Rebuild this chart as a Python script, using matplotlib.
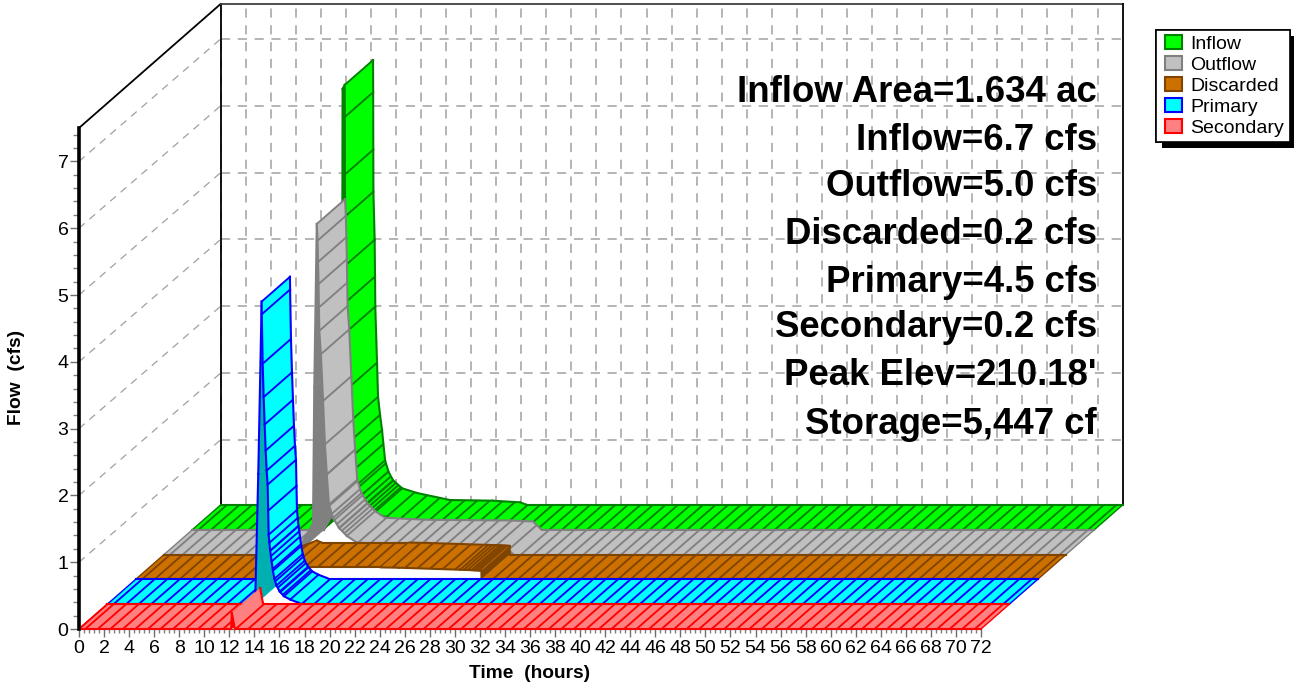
import matplotlib
matplotlib.use("Agg")
import matplotlib.pyplot as plt
import matplotlib.patheffects as pe
import numpy as np
from matplotlib.legend_handler import HandlerPatch
from matplotlib.patches import Patch
from matplotlib.ticker import MultipleLocator

plt.rcParams["font.family"] = ["Liberation Sans", "DejaVu Sans"]

# hydrographs (hours, cfs)
secondary_t = [0, 12.15, 12.2, 12.42, 12.5, 72]
secondary_q = [0, 0, 0.24, 0.02, 0, 0]

primary_t = [0, 11.8, 12.05, 12.32, 12.33, 12.4, 12.48, 12.56, 12.64, 12.72, 12.8, 12.84, 12.88, 12.94, 13.0,
             13.06, 13.12, 13.22, 13.34, 13.5, 13.76, 14.1, 14.6, 15.28, 15.5, 72]
primary_q = [0, 0, 1.95, 4.53, 4.34, 3.6, 3.1, 2.69, 2.3, 2.0, 1.79, 1.4, 1.04, 0.92, 0.8,
             0.72, 0.64, 0.5, 0.38, 0.28, 0.19, 0.12, 0.07, 0.02, 0, 0]

discarded_t = [0, 10.5, 11.1, 12.2, 12.6, 19.6, 21.0, 25.9, 26.2, 26.5, 26.8, 27.0, 27.2, 27.4, 27.6, 27.61, 72]
discarded_q = [0, 0, 0.13, 0.21, 0.18, 0.18, 0.175, 0.145, 0.143, 0.141, 0.139, 0.137, 0.135, 0.133, 0.13, 0, 0]

outflow_t = [0, 10.5, 11.9, 12.0, 12.2, 12.26, 12.3, 12.34, 12.37, 12.4, 12.53, 12.7, 12.85, 13.0, 13.17, 13.5,
             13.97, 14.6, 15.4, 18.75, 25.4, 27.2, 27.9, 72]
outflow_q = [0, 0, 0.47, 2.5, 4.95, 4.7, 4.38, 4.05, 3.7, 3.35, 3.0, 2.3, 1.65, 1.2, 0.75, 0.55,
             0.4, 0.28, 0.18, 0.15, 0.14, 0.125, 0, 0]

inflow_t = [0, 10.5, 11.6, 11.95, 12.0, 12.17, 12.18, 12.19, 12.2, 12.3, 12.33, 12.35, 12.49, 12.57, 12.73,
            12.89, 13.13, 13.4, 13.77, 14.5, 15.68, 18.3, 21.7, 23.9, 24.5, 72]
inflow_q = [0, 0, 0.3, 1.5, 6.6, 6.66, 6.18, 5.32, 4.69, 3.97, 3.42, 2.97, 2.13, 1.62, 1.35,
            1.12, 0.67, 0.5, 0.37, 0.25, 0.18, 0.075, 0.065, 0.04, 0, 0]

names = ["Inflow", "Outflow", "Discarded", "Primary", "Secondary"]
notes = ["Inflow Area=1.634 ac", "Inflow=6.7 cfs", "Outflow=5.0 cfs", "Discarded=0.2 cfs",
         "Primary=4.5 cfs", "Secondary=0.2 cfs", "Peak Elev=210.18'", "Storage=5,447 cf"]

# depth of the whole floor in data units, split over the five ribbons
DEPTH_X = 11.3
DEPTH_Y = 1.856
STEP_X = DEPTH_X / 5
STEP_Y = DEPTH_Y / 5
GRID = "#a0a0a0"
W, H = 1294, 686


def draw_ribbon(ax, t, q, level, face, edge, dark, z, dense=(0, 0), fine=(0, 0), force_dark=()):
    ox, oy = level * STEP_X, level * STEP_Y
    t = np.array(t, dtype=float)
    q = np.array(q, dtype=float)

    # hatch lines: every time step in the spike, closer on its tail, evenly spaced elsewhere
    even = np.arange(0.5, 72, 1.0)
    even = even[(even < dense[0]) | (even > dense[1])]
    inner = t[(t >= dense[0]) & (t <= dense[1])]
    tail = np.arange(fine[0], fine[1], 0.2)
    hatch = np.sort(np.concatenate([even, inner, tail]))

    for i in range(len(t) - 1):
        t0, t1, q0, q1 = t[i], t[i + 1], q[i], q[i + 1]
        xs = np.array([t0, t1, t1 + STEP_X, t0 + STEP_X]) + ox
        ys = np.array([q0, q1, q1 + STEP_Y, q0 + STEP_Y]) + oy
        # a face seen from below is darker, and gets no hatch
        rising = (q1 - q0) / (t1 - t0) > STEP_Y / STEP_X
        is_dark = rising or t0 in force_dark
        color = dark if is_dark else face
        ax.fill(xs, ys, facecolor=color, edgecolor=color, lw=0.3, clip_on=False, zorder=z)
        if not is_dark:
            for h in hatch[(hatch >= t0) & (hatch < t1)]:
                v = np.interp(h, t, q)
                ax.plot([h + ox, h + ox + STEP_X], [v + oy, v + oy + STEP_Y], color=edge, lw=1.35,
                        clip_on=False, zorder=z, solid_capstyle="butt")
        ax.plot([t0 + ox, t1 + ox], [q0 + oy, q1 + oy], color=edge, lw=1.5, clip_on=False, zorder=z)
        ax.plot([t0 + ox + STEP_X, t1 + ox + STEP_X], [q0 + oy + STEP_Y, q1 + oy + STEP_Y], color=edge, lw=1.5,
                clip_on=False, zorder=z)
    for end in (0, -1):
        ax.plot([t[end] + ox, t[end] + ox + STEP_X], [q[end] + oy, q[end] + oy + STEP_Y], color=edge, lw=1.0,
                clip_on=False, zorder=z)


fig = plt.figure(figsize=(W / 100, H / 100), dpi=100)
ax = fig.add_axes([79 / W, (H - 629) / H, (981 - 79) / W, (629 - 128) / H])
ax.set_xlim(0, 72)
ax.set_ylim(0, 7.5)

# back wall and side wall
dash = (0, (6, 5))
wall_y = DEPTH_Y - 0.025
for t in np.arange(0, 72, 2):
    ax.plot([t + DEPTH_X] * 2, [DEPTH_Y, 7.5 + DEPTH_Y], color=GRID, lw=1.1, ls=dash, clip_on=False, zorder=1)
for v in np.arange(1, 8):
    ax.plot([DEPTH_X, 72 + DEPTH_X], [v + wall_y] * 2, color=GRID, lw=1.1, ls=dash, clip_on=False, zorder=1)
    ax.plot([0, DEPTH_X], [v, v + wall_y], color=GRID, lw=0.9, ls=dash, clip_on=False, zorder=1)
ax.plot([0, DEPTH_X], [7.5, 7.5 + DEPTH_Y], color="k", lw=1.3, clip_on=False, zorder=1.5)
ax.plot([DEPTH_X, DEPTH_X], [DEPTH_Y, 7.5 + DEPTH_Y], color="k", lw=1.3, clip_on=False, zorder=1.5)
ax.plot([DEPTH_X, 72 + DEPTH_X], [7.5 + DEPTH_Y] * 2, color="#404040", lw=1.3, clip_on=False, zorder=1.5)
ax.plot([72 + DEPTH_X] * 2, [DEPTH_Y, 7.5 + DEPTH_Y], color="k", lw=1.3, clip_on=False, zorder=1.5)

draw_ribbon(ax, inflow_t, inflow_q, 4, "#00ff00", "#008000", "#008000", 2, dense=(12.1, 15.0), fine=(13.0, 14.6))
draw_ribbon(ax, outflow_t, outflow_q, 3, "#c0c0c0", "#808080", "#808080", 3, dense=(12.1, 15.0), fine=(13.0, 14.6))
draw_ribbon(ax, discarded_t, discarded_q, 2, "#cc7000", "#7f4400", "#7f4400", 4, dense=(25.9, 27.59),
            force_dark=(27.6,))
draw_ribbon(ax, primary_t, primary_q, 1, "#00ffff", "#0000ff", "#00b0b0", 5, dense=(12.3, 15.0), fine=(13.0, 14.2))
draw_ribbon(ax, secondary_t, secondary_q, 0, "#ff8080", "#ff0000", "#ff0000", 6)

ax.spines[["top", "right"]].set_visible(False)
ax.spines["left"].set_linewidth(2.6)
ax.spines["left"].set_zorder(8)
ax.spines["bottom"].set_color("#606060")
ax.spines["bottom"].set_zorder(1)
ax.patch.set_visible(False)

ax.xaxis.set_minor_locator(MultipleLocator(0.4))
ax.yaxis.set_minor_locator(MultipleLocator(0.2))
ax.tick_params(axis="x", which="major", direction="out", length=6, width=1.0, color="#707070", labelsize=14, pad=2)
ax.tick_params(axis="x", which="minor", direction="out", length=3, width=1.0, color="#808080")
ax.tick_params(axis="y", which="major", direction="out", length=6.5, width=1.0, color="#707070", labelsize=14, pad=1)
ax.tick_params(axis="y", which="minor", direction="out", length=4, width=1.0, color="#808080")
ax.set_xticks(np.arange(0, 73, 2))
ax.set_yticks(np.arange(0, 8))
ax.set_xlabel("Time  (hours)", fontweight="bold", fontsize=13.8)
ax.set_ylabel("Flow  (cfs)", fontweight="bold", fontsize=13.8)
ax.yaxis.set_label_coords(17 / W, 1 - 377 / H, transform=fig.transFigure)
ax.xaxis.set_label_coords(530 / W, 1 - 673 / H, transform=fig.transFigure)
ax.xaxis.label.set_va("center")
ax.yaxis.label.set_va("center")

note_y = [92, 140, 187, 234, 282, 328, 376, 424]
for text, y in zip(notes, note_y):
    fig.text(1097 / W, 1 - y / H, text, ha="right", va="center", fontsize=26.4, fontweight="bold")

handles = [Patch(facecolor=f, edgecolor=e, lw=1.5) for f, e in
           [("#00ff00", "#008000"), ("#c0c0c0", "#808080"), ("#cc7000", "#7f4400"),
            ("#00ffff", "#0000ff"), ("#ff8080", "#ff0000")]]
leg = fig.legend(handles, names, loc="upper left", bbox_to_anchor=(1156 / W, 1 - 30 / H), fontsize=14,
                 fancybox=False, framealpha=1, edgecolor="k", borderaxespad=0, borderpad=0.28,
                 labelspacing=0.17, handlelength=1.08, handleheight=0.7, handletextpad=0.42,
                 handler_map={Patch: HandlerPatch(xpad=0.2)})
leg.get_frame().set_linewidth(1.2)
leg.get_frame().set_path_effects([pe.withSimplePatchShadow(offset=(4.5, -4.5), shadow_rgbFace="k", alpha=1), pe.Normal()])

plt.savefig("out.png", dpi=100)
